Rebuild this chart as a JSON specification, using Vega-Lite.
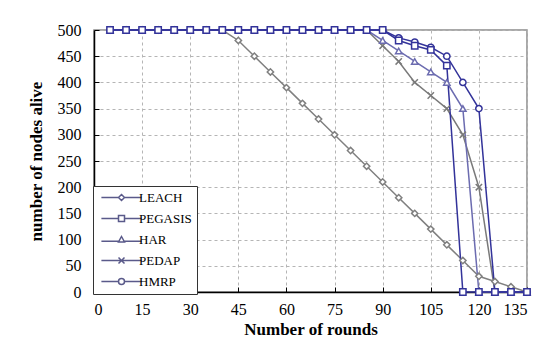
{
  "$schema": "https://vega.github.io/schema/vega-lite/v6.json",
  "width": 433,
  "height": 262,
  "autosize": {"type": "none"},
  "padding": {"left": 94, "top": 30, "right": 13, "bottom": 66},
  "background": "white",
  "config": {
    "font": "Liberation Serif",
    "view": {"stroke": "#8c8c8c", "strokeWidth": 1.5},
    "axis": {
      "labelFont": "Liberation Serif",
      "titleFont": "Liberation Serif",
      "labelFontSize": 16,
      "titleFontSize": 17,
      "titleFontWeight": "bold",
      "labelColor": "black",
      "titleColor": "black",
      "domainColor": "black",
      "domainWidth": 1.5,
      "tickColor": "black",
      "tickWidth": 1,
      "tickSize": -5,
      "gridColor": "#b5b5b5",
      "gridDash": [3, 3],
      "gridWidth": 1
    }
  },
  "data": {
    "values": [
      {"series": "LEACH", "x": 5, "y": 500},
      {"series": "LEACH", "x": 10, "y": 500},
      {"series": "LEACH", "x": 15, "y": 500},
      {"series": "LEACH", "x": 20, "y": 500},
      {"series": "LEACH", "x": 25, "y": 500},
      {"series": "LEACH", "x": 30, "y": 500},
      {"series": "LEACH", "x": 35, "y": 500},
      {"series": "LEACH", "x": 40, "y": 500},
      {"series": "LEACH", "x": 45, "y": 480},
      {"series": "LEACH", "x": 50, "y": 450},
      {"series": "LEACH", "x": 55, "y": 420},
      {"series": "LEACH", "x": 60, "y": 390},
      {"series": "LEACH", "x": 65, "y": 360},
      {"series": "LEACH", "x": 70, "y": 330},
      {"series": "LEACH", "x": 75, "y": 300},
      {"series": "LEACH", "x": 80, "y": 270},
      {"series": "LEACH", "x": 85, "y": 240},
      {"series": "LEACH", "x": 90, "y": 210},
      {"series": "LEACH", "x": 95, "y": 180},
      {"series": "LEACH", "x": 100, "y": 150},
      {"series": "LEACH", "x": 105, "y": 120},
      {"series": "LEACH", "x": 110, "y": 90},
      {"series": "LEACH", "x": 115, "y": 60},
      {"series": "LEACH", "x": 120, "y": 30},
      {"series": "LEACH", "x": 125, "y": 20},
      {"series": "LEACH", "x": 130, "y": 10},
      {"series": "LEACH", "x": 135, "y": 0},

      {"series": "PEDAP", "x": 5, "y": 500},
      {"series": "PEDAP", "x": 10, "y": 500},
      {"series": "PEDAP", "x": 15, "y": 500},
      {"series": "PEDAP", "x": 20, "y": 500},
      {"series": "PEDAP", "x": 25, "y": 500},
      {"series": "PEDAP", "x": 30, "y": 500},
      {"series": "PEDAP", "x": 35, "y": 500},
      {"series": "PEDAP", "x": 40, "y": 500},
      {"series": "PEDAP", "x": 45, "y": 500},
      {"series": "PEDAP", "x": 50, "y": 500},
      {"series": "PEDAP", "x": 55, "y": 500},
      {"series": "PEDAP", "x": 60, "y": 500},
      {"series": "PEDAP", "x": 65, "y": 500},
      {"series": "PEDAP", "x": 70, "y": 500},
      {"series": "PEDAP", "x": 75, "y": 500},
      {"series": "PEDAP", "x": 80, "y": 500},
      {"series": "PEDAP", "x": 85, "y": 500},
      {"series": "PEDAP", "x": 90, "y": 470},
      {"series": "PEDAP", "x": 95, "y": 440},
      {"series": "PEDAP", "x": 100, "y": 400},
      {"series": "PEDAP", "x": 105, "y": 375},
      {"series": "PEDAP", "x": 110, "y": 350},
      {"series": "PEDAP", "x": 115, "y": 300},
      {"series": "PEDAP", "x": 120, "y": 200},
      {"series": "PEDAP", "x": 125, "y": 0},
      {"series": "PEDAP", "x": 130, "y": 0},
      {"series": "PEDAP", "x": 135, "y": 0},

      {"series": "HAR", "x": 5, "y": 500},
      {"series": "HAR", "x": 10, "y": 500},
      {"series": "HAR", "x": 15, "y": 500},
      {"series": "HAR", "x": 20, "y": 500},
      {"series": "HAR", "x": 25, "y": 500},
      {"series": "HAR", "x": 30, "y": 500},
      {"series": "HAR", "x": 35, "y": 500},
      {"series": "HAR", "x": 40, "y": 500},
      {"series": "HAR", "x": 45, "y": 500},
      {"series": "HAR", "x": 50, "y": 500},
      {"series": "HAR", "x": 55, "y": 500},
      {"series": "HAR", "x": 60, "y": 500},
      {"series": "HAR", "x": 65, "y": 500},
      {"series": "HAR", "x": 70, "y": 500},
      {"series": "HAR", "x": 75, "y": 500},
      {"series": "HAR", "x": 80, "y": 500},
      {"series": "HAR", "x": 85, "y": 500},
      {"series": "HAR", "x": 90, "y": 480},
      {"series": "HAR", "x": 95, "y": 460},
      {"series": "HAR", "x": 100, "y": 440},
      {"series": "HAR", "x": 105, "y": 420},
      {"series": "HAR", "x": 110, "y": 400},
      {"series": "HAR", "x": 115, "y": 350},
      {"series": "HAR", "x": 120, "y": 0},
      {"series": "HAR", "x": 125, "y": 0},
      {"series": "HAR", "x": 130, "y": 0},
      {"series": "HAR", "x": 135, "y": 0},

      {"series": "HMRP", "x": 5, "y": 500},
      {"series": "HMRP", "x": 10, "y": 500},
      {"series": "HMRP", "x": 15, "y": 500},
      {"series": "HMRP", "x": 20, "y": 500},
      {"series": "HMRP", "x": 25, "y": 500},
      {"series": "HMRP", "x": 30, "y": 500},
      {"series": "HMRP", "x": 35, "y": 500},
      {"series": "HMRP", "x": 40, "y": 500},
      {"series": "HMRP", "x": 45, "y": 500},
      {"series": "HMRP", "x": 50, "y": 500},
      {"series": "HMRP", "x": 55, "y": 500},
      {"series": "HMRP", "x": 60, "y": 500},
      {"series": "HMRP", "x": 65, "y": 500},
      {"series": "HMRP", "x": 70, "y": 500},
      {"series": "HMRP", "x": 75, "y": 500},
      {"series": "HMRP", "x": 80, "y": 500},
      {"series": "HMRP", "x": 85, "y": 500},
      {"series": "HMRP", "x": 90, "y": 500},
      {"series": "HMRP", "x": 95, "y": 485},
      {"series": "HMRP", "x": 100, "y": 477},
      {"series": "HMRP", "x": 105, "y": 467},
      {"series": "HMRP", "x": 110, "y": 450},
      {"series": "HMRP", "x": 115, "y": 400},
      {"series": "HMRP", "x": 120, "y": 350},
      {"series": "HMRP", "x": 125, "y": 0},
      {"series": "HMRP", "x": 130, "y": 0},
      {"series": "HMRP", "x": 135, "y": 0},

      {"series": "PEGASIS", "x": 5, "y": 500},
      {"series": "PEGASIS", "x": 10, "y": 500},
      {"series": "PEGASIS", "x": 15, "y": 500},
      {"series": "PEGASIS", "x": 20, "y": 500},
      {"series": "PEGASIS", "x": 25, "y": 500},
      {"series": "PEGASIS", "x": 30, "y": 500},
      {"series": "PEGASIS", "x": 35, "y": 500},
      {"series": "PEGASIS", "x": 40, "y": 500},
      {"series": "PEGASIS", "x": 45, "y": 500},
      {"series": "PEGASIS", "x": 50, "y": 500},
      {"series": "PEGASIS", "x": 55, "y": 500},
      {"series": "PEGASIS", "x": 60, "y": 500},
      {"series": "PEGASIS", "x": 65, "y": 500},
      {"series": "PEGASIS", "x": 70, "y": 500},
      {"series": "PEGASIS", "x": 75, "y": 500},
      {"series": "PEGASIS", "x": 80, "y": 500},
      {"series": "PEGASIS", "x": 85, "y": 500},
      {"series": "PEGASIS", "x": 90, "y": 500},
      {"series": "PEGASIS", "x": 95, "y": 480},
      {"series": "PEGASIS", "x": 100, "y": 470},
      {"series": "PEGASIS", "x": 105, "y": 462},
      {"series": "PEGASIS", "x": 110, "y": 432},
      {"series": "PEGASIS", "x": 115, "y": 0},
      {"series": "PEGASIS", "x": 120, "y": 0},
      {"series": "PEGASIS", "x": 125, "y": 0},
      {"series": "PEGASIS", "x": 130, "y": 0},
      {"series": "PEGASIS", "x": 135, "y": 0}
    ]
  },
  "encoding": {
    "x": {
      "field": "x", "type": "quantitative",
      "scale": {"domain": [0, 135], "nice": false},
      "axis": {"values": [0, 15, 30, 45, 60, 75, 90, 105, 120, 135], "title": "Number of rounds", "labelPadding": 14, "titlePadding": 4}
    },
    "y": {
      "field": "y", "type": "quantitative",
      "scale": {"domain": [0, 500], "nice": false},
      "axis": {"values": [0, 50, 100, 150, 200, 250, 300, 350, 400, 450, 500], "title": "number of nodes alive", "labelPadding": 18, "titlePadding": 12}
    }
  },
  "resolve": {"scale": {"shape": "independent"}},
  "layer": [
    {
      "mark": {"type": "line", "strokeWidth": 1.5},
      "encoding": {
        "detail": {"field": "series"},
        "color": {
          "field": "series", "type": "nominal",
          "scale": {
            "domain": ["LEACH", "PEGASIS", "HAR", "PEDAP", "HMRP"],
            "range": ["#808080", "#33339a", "#6c6cb0", "#7a7a7a", "#33339a"]
          },
          "legend": null
        }
      }
    },
    {
      "mark": {"type": "point", "filled": false, "fill": "white", "size": 40, "strokeWidth": 1.5, "opacity": 1},
      "encoding": {
        "color": {
          "field": "series", "type": "nominal",
          "scale": {
            "domain": ["LEACH", "PEGASIS", "HAR", "PEDAP", "HMRP"],
            "range": ["#808080", "#33339a", "#6c6cb0", "#7a7a7a", "#33339a"]
          },
          "legend": null
        },
        "shape": {
          "field": "series", "type": "nominal",
          "scale": {
            "domain": ["LEACH", "PEGASIS", "HAR", "PEDAP", "HMRP"],
            "range": ["diamond", "square", "triangle-up", "M-1,-1L1,1M1,-1L-1,1", "circle"]
          },
          "legend": null
        }
      }
    },
    {
      "mark": {"type": "point", "filled": false, "strokeWidth": 1.5, "opacity": 0},
      "encoding": {
        "color": {
          "field": "series", "type": "nominal",
          "scale": {
            "domain": ["LEACH", "PEGASIS", "HAR", "PEDAP", "HMRP"],
            "range": ["#808080", "#33339a", "#6c6cb0", "#7a7a7a", "#33339a"]
          },
          "legend": {
            "title": null,
            "orient": "none",
            "legendX": -1,
            "legendY": 156,
            "direction": "vertical",
            "fillColor": "white",
            "strokeColor": "#333333",
            "padding": 5,
            "labelFont": "Liberation Serif",
            "labelFontSize": 13,
            "labelColor": "black",
            "symbolSize": 36,
            "symbolOpacity": 1,
            "symbolStrokeWidth": 1.5,
            "symbolFillColor": "white",
            "symbolOffset": 17,
            "labelOffset": 11,
            "rowPadding": 7
          }
        },
        "shape": {
          "field": "series", "type": "nominal",
          "scale": {
            "domain": ["LEACH", "PEGASIS", "HAR", "PEDAP", "HMRP"],
            "range": [
              "M-6.7,0H-1M1,0H6.7M0,-1L1,0L0,1L-1,0Z",
              "M-6.7,0H-1M1,0H6.7M-1,-1H1V1H-1Z",
              "M-6.7,0.6H-0.7M0.7,0.6H6.7M0,-1L1,0.8H-1Z",
              "M-6.7,0H6.7M-1,-1L1,1M1,-1L-1,1",
              "M-6.7,0H-1M1,0H6.7M1,0A1,1 0 1,1 -1,0A1,1 0 1,1 1,0Z"
            ]
          },
          "legend": {
            "title": null,
            "orient": "none",
            "legendX": -1,
            "legendY": 156,
            "direction": "vertical",
            "fillColor": "white",
            "strokeColor": "#333333",
            "padding": 5,
            "labelFont": "Liberation Serif",
            "labelFontSize": 13,
            "labelColor": "black",
            "symbolSize": 36,
            "symbolOpacity": 1,
            "symbolStrokeWidth": 1.5,
            "symbolFillColor": "white",
            "symbolStrokeColor": "#5a5a8a",
            "symbolOffset": 17,
            "labelOffset": 11,
            "rowPadding": 7
          }
        }
      }
    }
  ]
}
